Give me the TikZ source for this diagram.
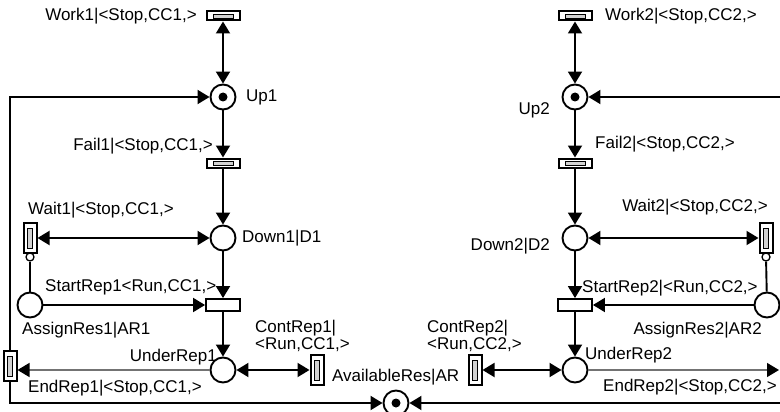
\documentclass[tikz,border=0pt]{standalone}
\usepackage{fontspec}
\setmainfont{Liberation Sans}
\usetikzlibrary{arrows.meta}

\begin{document}
\begin{tikzpicture}[x=1pt, y=-1pt,
        >={Triangle[length=12pt, width=14pt]},
        lbl/.style={inner sep=0pt, font=\fontsize{17}{17}\selectfont},
        arc/.style={line width=1.9pt},
        endarc/.style={line width=1.3pt, draw=black!55, -{Triangle[length=12pt, width=14pt, color=black]}},
        place/.style={circle, draw, line width=1.9pt, minimum size=25pt, inner sep=0pt},
        knob/.style={circle, draw, fill=white, line width=1.3pt, minimum size=8pt, inner sep=0pt},
        htrans/.style={draw, line width=2pt, minimum width=33pt, minimum height=9pt, inner sep=0pt,
            path picture={\draw [fill=gray!35, line width=0.9pt]
                ([xshift=-10pt, yshift=-2pt]path picture bounding box.center)
                rectangle ([xshift=10pt, yshift=2pt]path picture bounding box.center);}},
        vtrans/.style={draw, line width=2pt, minimum width=13pt, minimum height=30pt, inner sep=0pt,
            path picture={\draw [fill=gray!35, line width=0.9pt]
                ([xshift=-2.5pt, yshift=-10pt]path picture bounding box.center)
                rectangle ([xshift=2.5pt, yshift=10pt]path picture bounding box.center);}},
        strans/.style={draw, fill=white, line width=1.9pt, minimum width=34pt, minimum height=12pt, inner sep=0pt}]
    \useasboundingbox (0, 0) rectangle (780, 412);

    \node [htrans] (work1) at (223, 16) {};
    \node [place] (up1) at (223, 97) {};
    \fill (up1) circle (4.5pt);
    \node [htrans] (fail1) at (223, 163) {};
    \node [place] (down1) at (223, 238) {};
    \node [vtrans] (wait1) at (30, 238) {};
    \node [knob] (wait1o) at (30, 257) {};
    \node [strans] (start1) at (223, 305) {};
    \node [place] (assign1) at (30, 305) {};
    \node [place] (under1) at (223, 370) {};
    \node [vtrans] (end1) at (10, 366) {};
    \node [vtrans] (cont1) at (317, 370) {};
    \node [place] (avail) at (396, 403) {};
    \fill (avail) circle (4.5pt);

    \node [htrans] (work2) at (575, 16) {};
    \node [place] (up2) at (575, 97) {};
    \fill (up2) circle (4.5pt);
    \node [htrans] (fail2) at (575, 163) {};
    \node [place] (down2) at (575, 238) {};
    \node [vtrans] (wait2) at (766, 238) {};
    \node [knob] (wait2o) at (766, 257) {};
    \node [strans] (start2) at (575, 305) {};
    \node [place] (assign2) at (767, 305) {};
    \node [place] (under2) at (575, 370) {};
    \node [vtrans] (cont2) at (475, 370) {};
    \coordinate (in2) at (781, 97);
    \coordinate (out2) at (779, 370);
    \coordinate (ret2) at (781, 403);

    \draw [arc, <->] (work1) -- (up1);
    \draw [arc, ->] (up1) -- (fail1);
    \draw [arc, ->] (fail1) -- (down1);
    \draw [arc, <->] (wait1) -- (down1);
    \draw [arc, ->] (down1) -- (start1);
    \draw [arc] (assign1) -- (wait1o);
    \draw [arc, ->] (assign1) -- (start1);
    \draw [arc, ->] (start1) -- (under1);
    \draw [arc, <->] (under1) -- (cont1);
    \draw [endarc] (under1.west) -- (under1.west -| end1.east);
    \draw [arc, ->] (end1.north) |- (up1);
    \draw [arc, ->] (end1.south) |- (avail);

    \draw [arc, <->] (work2) -- (up2);
    \draw [arc, ->] (in2) -- (up2);
    \draw [arc, ->] (up2) -- (fail2);
    \draw [arc, ->] (fail2) -- (down2);
    \draw [arc, <->] (down2) -- (wait2);
    \draw [arc, ->] (down2) -- (start2);
    \draw [arc] (assign2) -- (wait2o);
    \draw [arc, ->] (assign2) -- (start2);
    \draw [arc, ->] (start2) -- (under2);
    \draw [arc, <->] (cont2) -- (under2);
    \draw [endarc] (under2) -- (out2);
    \draw [arc, ->] (ret2) -- (avail);

    \node [lbl, anchor=east] (work1l) at (197, 16) {Work1|<Stop,CC1,>};
    \node [lbl, anchor=west] (up1l) at (246, 97) {Up1};
    \node [lbl, anchor=east] (fail1l) at (213, 146) {Fail1|<Stop,CC1,>};
    \node [lbl, anchor=west] (wait1l) at (28, 210) {Wait1|<Stop,CC1,>};
    \node [lbl, anchor=west] (down1l) at (242, 238) {Down1|D1};
    \node [lbl, anchor=west] (start1l) at (45, 287) {StartRep1<Run,CC1,>};
    \node [lbl, anchor=west] (assign1l) at (22, 330) {AssignRes1|AR1};
    \node [lbl, anchor=east] (under1l) at (217, 357) {UnderRep1};
    \node [lbl, anchor=west] (end1l) at (28, 388) {EndRep1|<Stop,CC1,>};
    \node [lbl, anchor=west, align=left] (cont1l) at (255, 336) {ContRep1|\\<Run,CC1,>};
    \node [lbl, anchor=west] (availl) at (332, 377) {AvailableRes|AR};

    \node [lbl, anchor=west] (work2l) at (605, 16) {Work2|<Stop,CC2,>};
    \node [lbl, anchor=east] (up2l) at (550, 110) {Up2};
    \node [lbl, anchor=west] (fail2l) at (595, 144) {Fail2|<Stop,CC2,>};
    \node [lbl, anchor=east] (wait2l) at (768, 207) {Wait2|<Stop,CC2,>};
    \node [lbl, anchor=east] (down2l) at (550, 246) {Down2|D2};
    \node [lbl, anchor=west] (start2l) at (582, 288) {StartRep2|<Run,CC2,>};
    \node [lbl, anchor=east] (assign2l) at (762, 330) {AssignRes2|AR2};
    \node [lbl, anchor=west] (under2l) at (585, 355) {UnderRep2};
    \node [lbl, anchor=east] (end2l) at (777, 387) {EndRep2|<Stop,CC2,>};
    \node [lbl, anchor=west, align=left] (cont2l) at (427, 336) {ContRep2|\\<Run,CC2,>};
\end{tikzpicture}
\end{document}
